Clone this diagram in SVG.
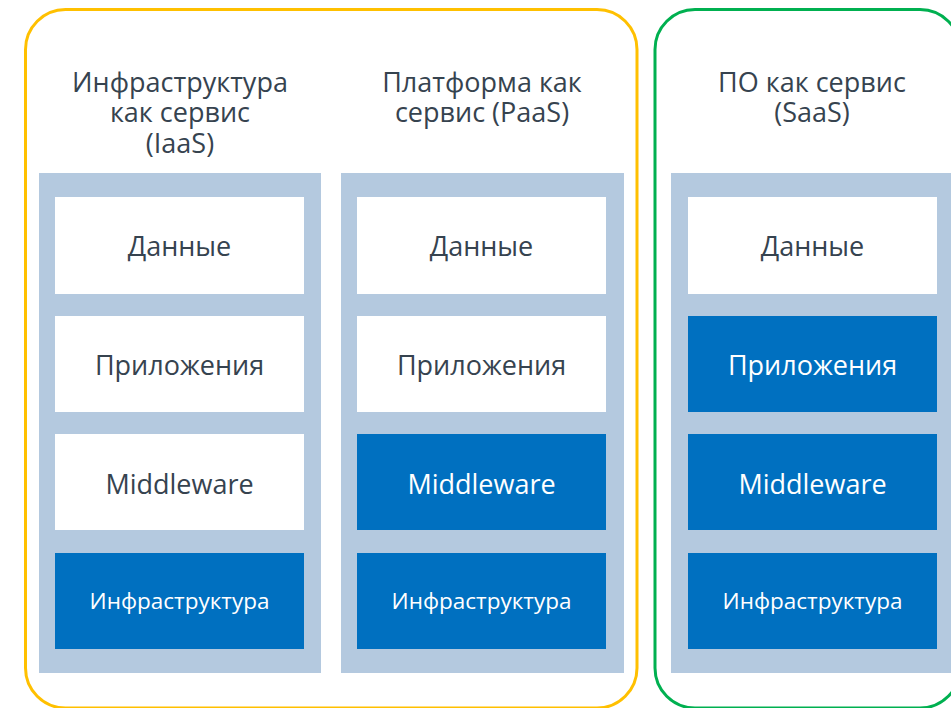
<svg xmlns="http://www.w3.org/2000/svg" width="951" height="708" viewBox="0 0 951 708">
<style>
.t{font-family:"Open Sans","Noto Sans","DejaVu Sans",sans-serif;text-anchor:middle;fill:#36434F}
.h{font-size:27px}
.b{font-size:27px}
.s{font-size:22.5px}
.w{fill:#FFFFFF}
.panel{fill:#B4C9DF}
.wb{fill:#FFFFFF}
.db{fill:#0070C0}
</style>
<rect width="951" height="708" fill="#FFFFFF"/>
<g id="group-yellow">
<rect x="25.5" y="9.5" width="611.5" height="698.5" rx="40" ry="40" fill="none" stroke="#FFC000" stroke-width="3"/>
</g>
<g id="group-green">
<rect x="655" y="9.5" width="305" height="698.5" rx="40" ry="40" fill="none" stroke="#00B050" stroke-width="3"/>
</g>
<g id="iaas">
<text class="t h"><tspan x="180" y="92">Инфраструктура</tspan><tspan x="180" y="122">как сервис</tspan><tspan x="180" y="153">(IaaS)</tspan></text>
<rect class="panel" x="39" y="173" width="282" height="500"/>
<g id="iaas-data"><rect class="wb" x="55" y="197" width="249" height="97"/><text class="t b" x="179.5" y="256">Данные</text></g>
<g id="iaas-apps"><rect class="wb" x="55" y="316" width="249" height="96"/><text class="t b" x="179.5" y="375">Приложения</text></g>
<g id="iaas-mw"><rect class="wb" x="55" y="434" width="249" height="96"/><text class="t b" x="179.5" y="494">Middleware</text></g>
<g id="iaas-infra"><rect class="db" x="55" y="553" width="249" height="96"/><text class="t s w" x="179.5" y="609">Инфраструктура</text></g>
</g>
<g id="paas">
<text class="t h"><tspan x="482" y="92">Платформа как</tspan><tspan x="482" y="122">сервис (PaaS)</tspan></text>
<rect class="panel" x="341" y="173" width="283" height="500"/>
<g id="paas-data"><rect class="wb" x="357" y="197" width="249" height="97"/><text class="t b" x="481.5" y="256">Данные</text></g>
<g id="paas-apps"><rect class="wb" x="357" y="316" width="249" height="96"/><text class="t b" x="481.5" y="375">Приложения</text></g>
<g id="paas-mw"><rect class="db" x="357" y="434" width="249" height="96"/><text class="t b w" x="481.5" y="494">Middleware</text></g>
<g id="paas-infra"><rect class="db" x="357" y="553" width="249" height="96"/><text class="t s w" x="481.5" y="609">Инфраструктура</text></g>
</g>
<g id="saas">
<text class="t h"><tspan x="812" y="92">ПО как сервис</tspan><tspan x="812" y="122">(SaaS)</tspan></text>
<rect class="panel" x="671" y="173" width="282" height="500"/>
<g id="saas-data"><rect class="wb" x="688" y="197" width="249" height="97"/><text class="t b" x="812.5" y="256">Данные</text></g>
<g id="saas-apps"><rect class="db" x="688" y="316" width="249" height="96"/><text class="t b w" x="812.5" y="375">Приложения</text></g>
<g id="saas-mw"><rect class="db" x="688" y="434" width="249" height="96"/><text class="t b w" x="812.5" y="494">Middleware</text></g>
<g id="saas-infra"><rect class="db" x="688" y="553" width="249" height="96"/><text class="t s w" x="812.5" y="609">Инфраструктура</text></g>
</g>
<g id="connectors"></g>
</svg>
